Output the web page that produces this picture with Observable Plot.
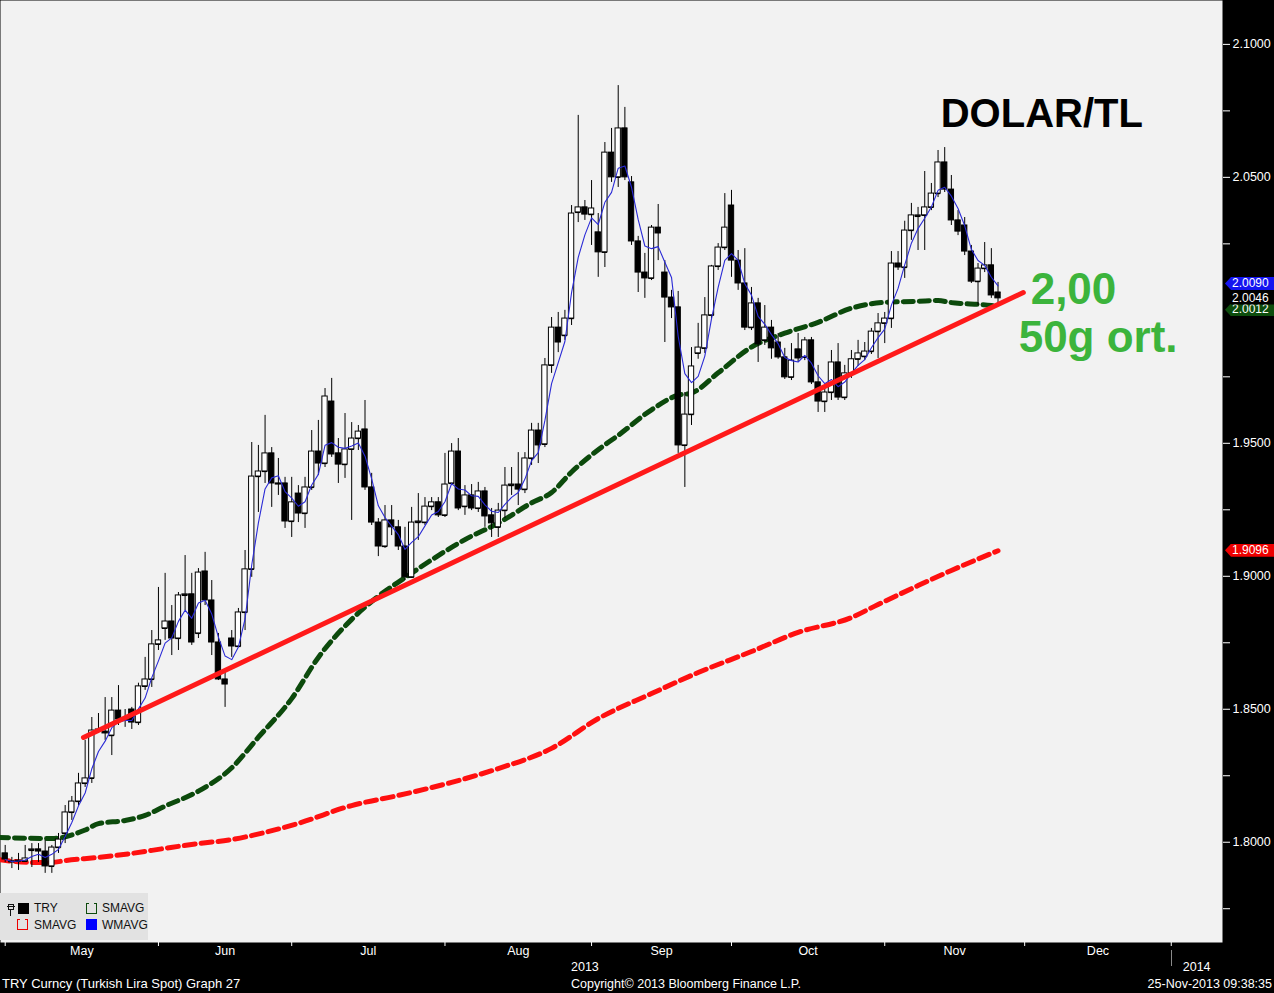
<!DOCTYPE html>
<html><head><meta charset="utf-8">
<script src="https://cdn.jsdelivr.net/npm/d3@7"></script>
<script src="https://cdn.jsdelivr.net/npm/@observablehq/plot@0.6"></script>
<style>
html,body{margin:0;padding:0;background:#000;}
#wrap{position:relative;width:1274px;height:993px;overflow:hidden;font-family:"Liberation Sans",Arial,sans-serif;}
#wrap svg{position:absolute;left:0;top:0;}
.cap{position:absolute;color:#fff;font-size:12.5px;line-height:16px;white-space:nowrap;}
.pl{position:absolute;left:1225px;width:49px;height:13px;font-size:12px;line-height:13px;color:#fff;padding-left:7px;box-sizing:border-box;clip-path:polygon(6px 0,100% 0,100% 100%,6px 100%,0 50%);}
#legend{position:absolute;left:0;top:893px;width:148px;height:47px;background:#e2e2e2;font-size:12px;color:#111;}
#legend .t{position:absolute;line-height:13px;}
#legend .sq{position:absolute;width:11px;height:11px;}
#legend .br{position:absolute;width:9px;height:10px;border-style:solid;border-width:0 1px 1px 1px;}
#legend .tk{position:absolute;height:1px;width:3px;}
</style></head><body><div id="wrap"></div>
<script>
// Daily TRY (USD/TRY) candles, trading-day index 0 = 1 May 2013
const open = [1.7958,1.7928,1.7928,1.7928,1.7969,1.7973,1.7965,1.7909,1.7980,1.8033,
1.8112,1.8153,1.8221,1.8240,1.8420,1.8416,1.8401,1.8495,1.8462,1.8499,
1.8450,1.8586,1.8612,1.8744,1.8804,1.8830,1.8766,1.8928,1.8932,1.8785,
1.9018,1.8909,1.8751,1.8612,1.8766,1.8736,1.8864,1.9026,1.9375,1.9394,
1.9462,1.9349,1.9349,1.9206,1.9311,1.9236,1.9334,1.9469,1.9424,1.9657,
1.9462,1.9420,1.9477,1.9518,1.9552,1.9334,1.9202,1.9112,1.9210,1.9184,
1.9112,1.8996,1.9202,1.9202,1.9262,1.9278,1.9229,1.9349,1.9469,1.9262,
1.9304,1.9255,1.9319,1.9229,1.9184,1.9247,1.9341,1.9345,1.9326,1.9443,
1.9548,1.9496,1.9793,1.9935,1.9905,1.9969,2.0368,2.0387,2.0360,2.0293,
2.0218,2.0593,2.0500,2.0684,2.0481,2.0259,2.0142,2.0120,2.0311,2.0142,
2.0048,2.0011,1.9492,1.9608,1.9838,1.9857,1.9981,2.0165,2.0236,2.0394,
2.0187,2.0101,1.9935,2.0026,1.9887,1.9935,1.9879,1.9823,1.9748,1.9853,
1.9823,1.9887,1.9729,1.9657,1.9691,1.9804,1.9672,1.9763,1.9816,1.9826,
1.9845,1.9920,1.9951,1.9969,2.0176,2.0161,2.0300,2.0353,2.0357,2.0387,
2.0439,2.0556,2.0454,2.0338,2.0319,2.0221,2.0108,2.0157,2.0169,2.0067];
const high = [1.7988,1.7943,1.7958,1.7988,1.7995,1.7995,1.8007,1.7988,1.8033,1.8138,
1.8172,1.8259,1.8383,1.8469,1.8484,1.8544,1.8544,1.8589,1.8499,1.8507,
1.8598,1.8695,1.8796,1.8958,1.9011,1.8890,1.8939,1.9078,1.9011,1.9029,
1.9090,1.8984,1.8785,1.8646,1.8796,1.8879,1.9097,1.9503,1.9492,1.9605,
1.9484,1.9443,1.9372,1.9372,1.9341,1.9372,1.9548,1.9586,1.9706,1.9744,
1.9518,1.9612,1.9578,1.9567,1.9661,1.9387,1.9217,1.9266,1.9266,1.9210,
1.9184,1.9259,1.9311,1.9296,1.9296,1.9296,1.9462,1.9499,1.9518,1.9341,
1.9345,1.9353,1.9334,1.9255,1.9274,1.9409,1.9409,1.9465,1.9465,1.9575,
1.9575,1.9819,1.9973,1.9992,2.0000,2.0394,2.0733,2.0413,2.0488,2.0364,
2.0631,2.0684,2.0845,2.0763,2.0503,2.0278,2.0214,2.0319,2.0398,2.0187,
2.0075,2.0071,1.9691,1.9860,1.9951,2.0048,2.0169,2.0251,2.0439,2.0451,
2.0225,2.0232,2.0086,2.0045,2.0018,1.9962,1.9913,1.9857,1.9875,1.9913,
1.9898,1.9898,1.9793,1.9717,1.9849,1.9875,1.9793,1.9849,1.9887,1.9879,
1.9932,1.9988,1.9992,2.0221,2.0221,2.0335,2.0402,2.0387,2.0522,2.0477,
2.0601,2.0612,2.0507,2.0375,2.0349,2.0244,2.0176,2.0255,2.0232,2.0105];
const low = [1.7924,1.7901,1.7894,1.7924,1.7905,1.7924,1.7883,1.7883,1.7958,1.7995,
1.8082,1.8138,1.8206,1.8221,1.8409,1.8383,1.8326,1.8439,1.8432,1.8424,
1.8439,1.8571,1.8582,1.8721,1.8759,1.8702,1.8721,1.8871,1.8740,1.8766,
1.8890,1.8702,1.8608,1.8507,1.8695,1.8732,1.8796,1.8996,1.9240,1.9349,
1.9259,1.9304,1.9180,1.9146,1.9202,1.9180,1.9323,1.9379,1.9409,1.9447,
1.9349,1.9368,1.9210,1.9473,1.9323,1.9191,1.9074,1.9105,1.9153,1.9097,
1.8984,1.8992,1.9135,1.9191,1.9247,1.9221,1.9221,1.9341,1.9247,1.9229,
1.9247,1.9240,1.9184,1.9146,1.9146,1.9217,1.9304,1.9266,1.9311,1.9417,
1.9424,1.9484,1.9763,1.9841,1.9887,1.9943,2.0330,2.0338,2.0244,2.0124,
2.0161,2.0481,2.0462,2.0488,2.0244,2.0067,2.0045,2.0112,2.0187,1.9879,
1.9969,1.9462,1.9334,1.9567,1.9816,1.9838,1.9969,2.0150,2.0225,2.0124,
2.0075,1.9924,1.9924,1.9804,1.9868,1.9816,1.9816,1.9740,1.9736,1.9804,
1.9811,1.9721,1.9616,1.9616,1.9661,1.9661,1.9661,1.9744,1.9789,1.9811,
1.9834,1.9819,1.9875,1.9932,2.0150,2.0120,2.0263,2.0225,2.0225,2.0375,
2.0424,2.0443,2.0319,2.0281,2.0206,2.0101,2.0018,2.0142,2.0045,2.0018];
const close = [1.7935,1.7924,1.7931,1.7939,1.7973,1.7965,1.7909,1.7980,1.8010,1.8112,
1.8153,1.8221,1.8240,1.8420,1.8424,1.8409,1.8495,1.8462,1.8458,1.8450,
1.8586,1.8612,1.8744,1.8759,1.8830,1.8766,1.8928,1.8932,1.8751,1.9014,
1.8909,1.8751,1.8612,1.8593,1.8736,1.8864,1.9026,1.9375,1.9394,1.9462,
1.9349,1.9345,1.9206,1.9278,1.9236,1.9334,1.9469,1.9424,1.9676,1.9458,
1.9420,1.9477,1.9518,1.9544,1.9334,1.9202,1.9112,1.9210,1.9184,1.9112,
1.8996,1.9202,1.9206,1.9262,1.9278,1.9229,1.9345,1.9469,1.9255,1.9304,
1.9255,1.9319,1.9225,1.9199,1.9247,1.9341,1.9345,1.9326,1.9443,1.9548,
1.9492,1.9793,1.9935,1.9879,1.9969,2.0364,2.0387,2.0360,2.0383,2.0218,
2.0593,2.0500,2.0684,2.0500,2.0259,2.0142,2.0120,2.0311,2.0289,2.0048,
2.0011,1.9492,1.9608,1.9789,1.9860,1.9981,2.0165,2.0236,2.0311,2.0187,
2.0101,1.9935,2.0026,1.9872,1.9935,1.9857,1.9823,1.9748,1.9811,1.9819,
1.9887,1.9729,1.9657,1.9691,1.9804,1.9672,1.9763,1.9816,1.9838,1.9845,
1.9920,1.9951,1.9969,2.0176,2.0161,2.0300,2.0357,2.0357,2.0387,2.0439,
2.0556,2.0454,2.0338,2.0296,2.0221,2.0108,2.0157,2.0169,2.0056,2.0045];

// 50-day simple moving average (green), read at trading-day indices
const sma50Day = [-1,7,12,14,18,21,24,29,34,38,43,47,52,56,60,64,69,74,79,82,85,89,92,97,101,103,107,112,117,122,127,132,137,140,142,144,148,149];
const sma50Val = [1.8018,1.8014,1.8046,1.8070,1.8082,1.8101,1.8136,1.8192,1.8280,1.8395,1.8540,1.8695,1.8838,1.8925,1.8995,1.9062,1.9138,1.9200,1.9276,1.9315,1.9392,1.9476,1.9530,1.9626,1.9681,1.9689,1.9765,1.9862,1.9914,1.9955,2.0008,2.0030,2.0034,2.0037,2.0029,2.0025,2.0018,2.0013];
// long simple moving average (red)
const smaLongDay = [-1,4,7,9,14,19,24,29,34,39,44,52,59,67,74,82,89,97,104,112,119,127,131,137,142,149];
const smaLongVal = [1.7935,1.7924,1.7924,1.7931,1.7943,1.7958,1.7977,1.7995,1.8010,1.8037,1.8071,1.8138,1.8176,1.8225,1.8277,1.8353,1.8465,1.8559,1.8638,1.8717,1.8789,1.8845,1.8894,1.8965,1.9022,1.9096];
// hand-drawn support trendline
const trendDay = [11.75, 152.8];
const trendVal = [1.8394, 2.0067];

const monthStarts = [0,23,43,66,88,109,132,153,175];
const monthLabels = ["May","Jun","Jul","Aug","Sep","Oct","Nov","Dec"];
const yMajor = [1.80,1.85,1.90,1.95,2.05,2.10];
const yMinor = [1.775,1.825,1.875,1.925,1.975,2.025,2.075];
const lastLabels = [
  {v:2.0012, text:"2.0012", bg:"#0d4d0d", shift:3},
  {v:2.0090, text:"2.0090", bg:"#1515f0", shift:-2.5},
  {v:2.0046, text:"2.0046", bg:"#000000", shift:0.5},
  {v:1.9096, text:"1.9096", bg:"#ee0000", shift:0}
];

const candles = open.map((o,i)=>({i, o, h:high[i], l:low[i], c:close[i]}));
const sma50 = sma50Day.map((d,i)=>({d, v:sma50Val[i]}));
const smaLong = smaLongDay.map((d,i)=>({d, v:smaLongVal[i]}));
const trend = trendDay.map((d,i)=>({d, v:trendVal[i]}));
const wma = (vals) => { let s=0, w=0; vals.forEach((v,j)=>{ s+=v*(j+1); w+=j+1; }); return s/w; };
const hw = 0.4;

const chart = Plot.plot({
  width:1274, height:993,
  marginLeft:0, marginRight:52, marginTop:0, marginBottom:51,
  style:{background:"#000", fontFamily:"Liberation Sans, Arial, sans-serif", overflow:"visible"},
  x:{domain:[-0.705,182.69], axis:null},
  y:{domain:[1.7623,2.1165], axis:null},
  marks:[
    Plot.frame({fill:"#f2f2f2", stroke:null}),
    Plot.line(smaLong, {x:"d", y:"v", stroke:"#ff1010", strokeWidth:5, strokeDasharray:"11,6", curve:"monotone-x", clip:true}),
    Plot.line(sma50, {x:"d", y:"v", stroke:"#0c4a0c", strokeWidth:5, strokeDasharray:"10,6", curve:"monotone-x", clip:true}),
    Plot.ruleX(candles, {x:"i", y1:"l", y2:"h", stroke:"#000", strokeWidth:1}),
    Plot.rect(candles, {x1:d=>d.i-hw, x2:d=>d.i+hw, y1:d=>Math.min(d.o,d.c), y2:d=>Math.max(d.o,d.c),
      fill:d=>d.c>=d.o?"#ffffff":"#000000", stroke:"#000", strokeWidth:1}),
    Plot.ruleY(candles, {y:"o", x1:d=>d.i-hw, x2:d=>d.i+hw, stroke:"#000", strokeWidth:1.2}),
    Plot.lineY(candles, Plot.windowY({k:5, anchor:"end", reduce:wma}, {x:"i", y:"c", stroke:"#2a2ad6", strokeWidth:1.1})),
    Plot.line(trend, {x:"d", y:"v", stroke:"#ff1a1a", strokeWidth:5}),
    Plot.axisY({anchor:"right", ticks:yMinor, tickFormat:()=>"", tickSize:7, color:"white"}),
    Plot.axisY({anchor:"right", ticks:yMajor, tickFormat:d3.format(".4f"), tickSize:7, tickPadding:3, color:"white", fontSize:12.5}),
    Plot.axisX({ticks:monthStarts, tickFormat:()=>"", tickSize:4, color:"white"}),
    Plot.text(monthLabels, {x:(d,i)=>(monthStarts[i]+monthStarts[i+1])/2, frameAnchor:"bottom", dy:12, text:d=>d, fill:"white", fontSize:12.5}),
    Plot.text(["DOLAR/TL"], {x:140.4, y:2.0736, text:d=>d, textAnchor:"start", fontSize:40, fontWeight:"bold", fill:"#000"}),
    Plot.text(["2,00"], {x:153.9, y:2.0075, text:d=>d, textAnchor:"start", fontSize:44, fontWeight:"bold", fill:"#3cb43c"}),
    Plot.text(["50g ort."], {x:152.1, y:1.9896, text:d=>d, textAnchor:"start", fontSize:44, fontWeight:"bold", fill:"#3cb43c"})
  ]
});

const wrap = document.getElementById("wrap");
wrap.appendChild(chart);
const ys = chart.scale("y"), xs = chart.scale("x");

lastLabels.forEach(l=>{
  const el = document.createElement("div");
  el.className = "pl";
  el.style.top = (ys.apply(l.v) - 6.5 + l.shift) + "px";
  el.style.background = l.bg;
  el.textContent = l.text;
  wrap.appendChild(el);
});

function cap(text, left, top, extra){
  const el = document.createElement("div");
  el.className = "cap";
  el.style.left = left + "px"; el.style.top = top + "px";
  if (extra) Object.assign(el.style, extra);
  el.textContent = text;
  wrap.appendChild(el);
  return el;
}
cap("2013", 571, 959);
cap("Copyright\u00A9 2013 Bloomberg Finance L.P.", 571, 976);
cap("TRY Curncy (Turkish Lira Spot) Graph 27", 2, 976, {fontSize:"13px"});
cap("25-Nov-2013 09:38:35", 0, 976, {left:"auto", right:"2px"});
cap("2014", xs.apply(175) + 12, 959);
const sep = document.createElement("div");
sep.style.cssText = `position:absolute;left:${Math.round(xs.apply(175))}px;top:950px;width:1px;height:16px;background:#8a8a8a;`;
wrap.appendChild(sep);

const lg = document.createElement("div");
lg.id = "legend";
lg.innerHTML = `
 <div style="position:absolute;left:8px;top:11px;width:4px;height:4px;border:1px solid #111;"></div>
 <div style="position:absolute;left:10px;top:17px;width:1px;height:6px;background:#111;"></div>
 <div style="position:absolute;left:7px;top:13px;width:8px;height:1px;background:#111;"></div>
 <div class="sq" style="left:18px;top:10px;background:#000;"></div>
 <div class="t" style="left:34px;top:9px;">TRY</div>
 <div class="br" style="left:86px;top:10px;border-color:#0c4a0c;"></div>
 <div class="tk" style="left:86px;top:10px;background:#0c4a0c;"></div>
 <div class="tk" style="left:94px;top:10px;background:#0c4a0c;"></div>
 <div class="t" style="left:102px;top:9px;">SMAVG</div>
 <div class="br" style="left:17px;top:26px;border-color:#ee0000;"></div>
 <div class="tk" style="left:17px;top:26px;background:#ee0000;"></div>
 <div class="tk" style="left:25px;top:26px;background:#ee0000;"></div>
 <div class="t" style="left:34px;top:26px;">SMAVG</div>
 <div class="sq" style="left:86px;top:26px;background:#0000ff;"></div>
 <div class="t" style="left:102px;top:26px;">WMAVG</div>`;
wrap.appendChild(lg);
</script>
</body></html>
